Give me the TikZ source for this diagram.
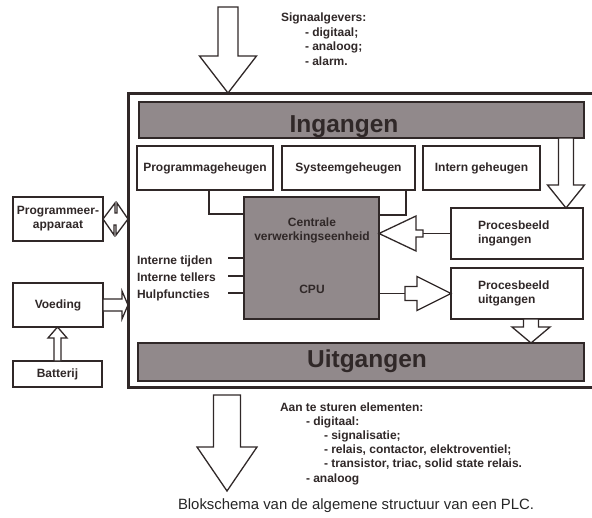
\documentclass[tikz,border=0pt]{standalone}
\usepackage{fontspec}
\setmainfont{Liberation Sans}
\usetikzlibrary{calc}
\definecolor{ink}{RGB}{48,40,40}
\definecolor{bandgray}{RGB}{145,137,139}
\begin{document}
\begin{tikzpicture}[x=1pt,y=-1pt,
  every node/.style={inner sep=0pt, outer sep=0pt},
  lab/.style={font=\bfseries\fontsize{12}{14}\selectfont, text=ink},
  box/.style={lab, draw=ink, line width=1.2pt, fill=white, anchor=north west, align=center},
  band/.style={draw=ink, line width=2.5pt, fill=bandgray, anchor=north west},
  bigtxt/.style={font=\bfseries\fontsize{24.5}{26}\selectfont, text=ink, anchor=base},
  txt/.style={lab, anchor=base west},
  cputxt/.style={lab, anchor=base},
  wire/.style={draw=ink, line width=1.8pt},
  thinwire/.style={draw=ink, line width=1.2pt},
  frame/.style={draw=ink, line width=3pt},
  fatshape/.style={draw=ink, line width=1.3pt, fill=white, line join=miter},
  fatarrow/.style n args={3}{fatshape, to path={
    -- ($(\tikztostart)!#1!90:(\tikztotarget)$)
    -- ($($(\tikztotarget)!#3!(\tikztostart)$)!#1!90:(\tikztotarget)$)
    -- ($($(\tikztotarget)!#3!(\tikztostart)$)!#2!90:(\tikztotarget)$)
    -- (\tikztotarget)
    -- ($($(\tikztotarget)!#3!(\tikztostart)$)!#2!-90:(\tikztotarget)$)
    -- ($($(\tikztotarget)!#3!(\tikztostart)$)!#1!-90:(\tikztotarget)$)
    -- ($(\tikztostart)!#1!-90:(\tikztotarget)$)
    -- cycle}}
]
\path[fill=white] (0,0) rectangle (592,517);
\useasboundingbox (0,0) rectangle (592,517);

% outer frame
\coordinate (frameTL) at (128,93);
\coordinate (frameBL) at (128,387);
\draw[frame] (594,93) -- (frameTL) -- (frameBL) -- (594,387);

% bands
\node[band, minimum width=445pt, minimum height=36pt] (ing) at (139,102) {};
\node[bigtxt] (ingt) at (344,132) {Ingangen};
\node[band, minimum width=446pt, minimum height=38pt] (uit) at (138,343) {};
\node[bigtxt] (uitt) at (367,367) {Uitgangen};

% memories
\node[box, minimum width=136pt, minimum height=44pt] (prog) at (137,146) {Programmageheugen};
\node[box, minimum width=133pt, minimum height=44pt] (sys) at (282,146) {Systeemgeheugen};
\node[box, minimum width=117pt, minimum height=44pt] (intern) at (423,146) {Intern geheugen};

% CPU
\node[band, minimum width=135pt, minimum height=122pt] (cpu) at (244,197) {};
\node[cputxt] (cpu1) at (312,226) {Centrale};
\node[cputxt] (cpu2) at (312,240) {verwerkingseenheid};
\node[cputxt] (cpu3) at (312,293) {CPU};

% process images
\node[box, minimum width=132pt, minimum height=51pt, text width=78pt, align=left] (pbi) at (451,208) {Procesbeeld\\ingangen};
\node[box, minimum width=132pt, minimum height=51pt, text width=78pt, align=left] (pbu) at (451,268) {Procesbeeld\\uitgangen};

% left boxes
\node[box, line width=2.5pt, minimum width=90pt, minimum height=44pt] (pa) at (13,197) {Programmeer-\\apparaat};
\node[box, line width=2pt, minimum width=90pt, minimum height=44pt] (voe) at (13,283) {Voeding};
\node[box, minimum width=89pt, minimum height=26pt] (bat) at (13,361) {Batterij};

% internal functions
\node[txt] (it1) at (137,264) {Interne tijden};
\node[txt] (it2) at (137,281) {Interne tellers};
\node[txt] (it3) at (137,298) {Hulpfuncties};
\coordinate (l1) at (228,258);
\coordinate (l2) at (228,276);
\coordinate (l3) at (228,293);
\draw[thinwire] (l1) -- (l1 -| cpu.west);
\draw[thinwire] (l2) -- (l2 -| cpu.west);
\draw[thinwire] (l3) -- (l3 -| cpu.west);

% memory buses
\coordinate (j1) at (209,214);
\coordinate (j2) at (406,215);
\draw[wire] (prog.south -| j1) |- (j1 -| cpu.west);
\draw[wire] (sys.south -| j2) |- (j2 -| cpu.east);

% texts
\node[txt] (sg0) at (281,21.5) {Signaalgevers:};
\node[txt] (sg1) at (305,36.5) {- digitaal;};
\node[txt] (sg2) at (305,50.5) {- analoog;};
\node[txt] (sg3) at (305,65) {- alarm.};

\node[txt] (ae0) at (280,411) {Aan te sturen elementen:};
\node[txt] (ae1) at (306,425) {- digitaal:};
\node[txt] (ae2) at (324,439) {- signalisatie;};
\node[txt] (ae3) at (324,453) {- relais, contactor, elektroventiel;};
\node[txt] (ae4) at (324,467) {- transistor, triac, solid state relais.};
\node[txt] (ae5) at (306,482) {- analoog};

\node[anchor=base west, font=\fontsize{14.9}{17}\selectfont, text=black!85] (cap) at (178,509) {Blokschema van de algemene structuur van een PLC.};

% fat arrows
\coordinate (sgtop) at (228,7);
\draw[fatarrow={10pt}{28.5pt}{37pt}] (sgtop) to (sgtop |- frameTL);
\coordinate (outtop) at (227,395);
\coordinate (outtip) at (227,491);
\draw[fatarrow={13.5pt}{30pt}{44pt}] (outtop) to (outtip);
\coordinate (xr) at (566,0);
\draw[fatarrow={7.5pt}{18.5pt}{23pt}] (ing.south -| xr) to (pbi.north -| xr);
\coordinate (xu) at (531,0);
\draw[fatarrow={7.5pt}{19pt}{16pt}] (pbu.south -| xu) to (uit.north -| xu);
\draw[fatarrow={3.5pt}{9.5pt}{11pt}] (bat.north) to (bat.north |- voe.south);
\draw[fatarrow={6pt}{14pt}{6pt}] (voe.east) to (voe.east -| frameTL);

\coordinate (k1) at (423,0);
\draw[wire, line width=1.5pt] (pbi.west) -- (pbi.west -| k1);
\draw[fatarrow={3.5pt}{17.5pt}{37pt}] (pbi.west -| k1) to (pbi.west -| cpu.east);
\coordinate (k2) at (405,0);
\draw[wire, line width=1.5pt] (pbu.west -| cpu.east) -- (pbu.west -| k2);
\draw[fatarrow={7pt}{17pt}{34pt}] (pbu.west -| k2) to (pbu.west);

% double arrow programmer
\draw[fatshape] (pa.east) -- ++(12,-16) -- ++(0,10) -- ++(2,0) -- ++(0,-10)
  -- (pa.east -| frameTL) -- ++(-12,16) -- ++(0,-10) -- ++(-2,0) -- ++(0,10) -- cycle;
\end{tikzpicture}
\end{document}
